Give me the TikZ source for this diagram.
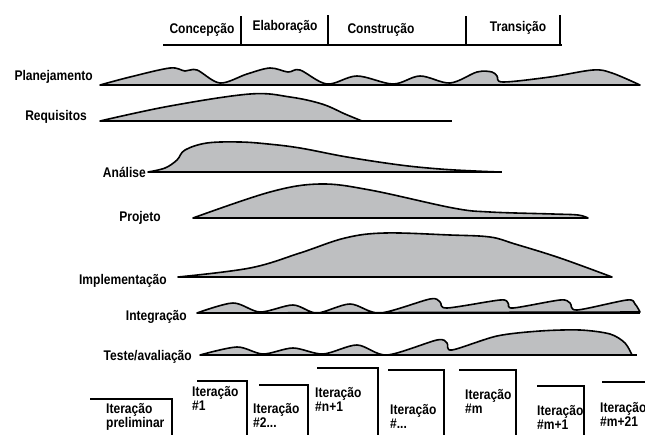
\documentclass[tikz,border=0pt]{standalone}
\usepackage{fontspec}
\setmainfont[FakeStretch=0.86]{Liberation Sans}
\definecolor{hump}{RGB}{190,191,193}
\begin{document}
\begin{tikzpicture}[x=1pt,y=-1pt,
  lbl/.style={font=\bfseries\fontsize{14}{15}\selectfont, inner sep=0pt, anchor=east},
  phase/.style={font=\bfseries\fontsize{14}{15}\selectfont, inner sep=0pt},
  iter/.style={font=\bfseries\fontsize{14}{14.5}\selectfont, inner sep=0pt, anchor=north west, align=left},
  humpshape/.style={fill=hump, draw=black, line width=1.6pt, line join=round},
  base/.style={draw=black, line width=2.2pt},
  bar/.style={draw=black, line width=1.7pt}]
\useasboundingbox (0,0) rectangle (645,434);
\clip (0,0) rectangle (645,434);

% phase bar
\draw[bar] (163,45) -- (562,45);
\draw[bar] (241,16) -- (241,45);
\draw[bar] (328,15) -- (328,45);
\draw[bar] (466,16) -- (466,45);
\draw[bar] (560,15) -- (560,45);
\node[phase] (ph1) at (202,30) {Concepção};
\node[phase] (ph2) at (285,27) {Elaboração};
\node[phase] (ph3) at (381,30) {Construção};
\node[phase] (ph4) at (518,28) {Transição};

% labels
\node[lbl] (l1) at (93,77) {Planejamento};
\node[lbl] (l2) at (87,117) {Requisitos};
\node[lbl] (l3) at (146,172) {Análise};
\node[lbl] (l4) at (161,218) {Projeto};
\node[lbl] (l5) at (167,281) {Implementação};
\node[lbl] (l6) at (187,317) {Integração};
\node[lbl] (l7) at (192,357) {Teste/avaliação};

% Planejamento
\filldraw[humpshape] plot[smooth, tension=0.55] coordinates {(100,85) (130,77) (170,68) (185,71) (197,70) (220,83) (247,74) (270,68) (288,72) (300,70) (327,84) (357,76) (393,84) (420,76) (450,83) (477,72) (492,72) (497,76) (503,82) (550,77) (593,70) (612,73) (640,85)} -- cycle;
\draw[base] (100,85) -- (640,85);

% Requisitos
\filldraw[humpshape] plot[smooth, tension=0.6] coordinates {(100,121) (170,106) (250,94) (290,97) (322,104) (345,114) (362,121)} -- cycle;
\draw[base] (100,121) -- (452,121);

% Analise
\filldraw[humpshape] plot[smooth, tension=0.6] coordinates {(148,172) (165,168) (177,160) (185,150) (207,143) (240,142) (268,144) (300,148) (347,157) (400,165) (440,169) (475,171) (500,172)} -- cycle;
\draw[base] (148,172) -- (502,172);

% Projeto
\filldraw[humpshape] plot[smooth, tension=0.6] coordinates {(193,218) (270,192) (320,184) (370,190) (453,208) (490,212) (553,214) (578,215) (588,218)} -- cycle;
\draw[base] (193,218) -- (588,218);

% Implementacao
\filldraw[humpshape] plot[smooth, tension=0.6] coordinates {(178,277) (250,268) (300,253) (345,238) (385,233) (450,235) (490,237) (515,244) (560,258) (612,277)} -- cycle;
\draw[base] (178,277) -- (612,277);

% Integracao
\filldraw[humpshape] plot[smooth, tension=0.5] coordinates {(197,313) (233,303) (260,312) (293,305) (317,313) (350,304) (380,313) (430,299) (440,302) (447,308) (500,300) (508,303) (513,308) (560,300) (570,303) (577,310) (627,300) (635,304) (640,312)} -- cycle;
\draw[base] (197,313) -- (640,313);

% Teste
\filldraw[humpshape] plot[smooth, tension=0.5] coordinates {(200,355) (237,347) (263,354) (293,348) (323,354) (357,345) (387,355) (437,340) (447,343) (452,350) (497,336) (540,331) (580,330) (610,334) (625,343) (632,355)} -- cycle;
\draw[base] (200,355) -- (637,355);

% iterations
\draw[bar] (90,399) -- (172,399) -- (172,440);
\draw[bar] (197,381) -- (247,381) -- (247,440);
\draw[bar] (259,385) -- (308,385) -- (308,440);
\draw[bar] (317,368) -- (378,368) -- (378,440);
\draw[bar] (388,370) -- (444,370) -- (444,440);
\draw[bar] (459,370) -- (516,370) -- (516,440);
\draw[bar] (537,386) -- (584,386) -- (584,440);
\draw[bar] (602,382) -- (650,382);
\node[iter] (i1) at (106,403) {Iteração\\preliminar};
\node[iter] (i2) at (192,386) {Iteração\\\#1};
\node[iter] (i3) at (253,403) {Iteração\\\#2...};
\node[iter] (i4) at (315,387) {Iteração\\\#n+1};
\node[iter] (i5) at (390,404) {Iteração\\\#...};
\node[iter] (i6) at (465,389) {Iteração\\\#m};
\node[iter] (i7) at (537,405) {Iteração\\\#m+1};
\node[iter] (i8) at (600,402) {Iteração\\\#m+21};
\end{tikzpicture}
\end{document}
